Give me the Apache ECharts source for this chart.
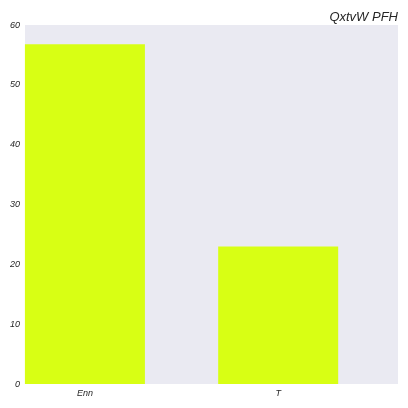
<!DOCTYPE html>
<html>
<head>
<meta charset="utf-8">
<script src="https://cdn.jsdelivr.net/npm/echarts@6/dist/echarts.min.js"></script>
<style>
  html, body { margin: 0; padding: 0; background: #fff; }
  #chart { width: 408px; height: 408px; }
</style>
</head>
<body>
<div id="chart"></div>
<script>
var categories = ['Enn', 'T'];
var values = [56.8, 23.0];
var yTicks = [0, 10, 20, 30, 40, 50, 60];

var chart = echarts.init(document.getElementById('chart'));

var barData = values.map(function (v, i) { return [i, v]; });

chart.setOption({
  animation: false,
  title: {
    text: 'QxtvW PFH',
    right: 5,
    top: 6,
    textStyle: {
      fontFamily: 'Liberation Sans',
      fontStyle: 'italic',
      fontWeight: 'normal',
      fontSize: 13,
      color: '#262626'
    }
  },
  grid: {
    left: 25,
    right: 10,
    top: 25,
    bottom: 24,
    show: true,
    backgroundColor: '#eaeaf2',
    borderWidth: 0
  },
  xAxis: {
    type: 'value',
    min: -0.31,
    max: 1.62,
    axisLine: { show: false },
    axisTick: { show: false },
    splitLine: { show: false },
    axisLabel: {
      customValues: [0, 1],
      formatter: function (v) { return categories[Math.round(v)]; },
      fontFamily: 'Liberation Sans',
      fontStyle: 'italic',
      fontSize: 9,
      color: '#262626',
      margin: 5
    }
  },
  yAxis: {
    type: 'value',
    min: yTicks[0],
    max: yTicks[yTicks.length - 1],
    interval: 10,
    axisLine: { show: false },
    axisTick: { show: false },
    splitLine: { show: false },
    axisLabel: {
      fontFamily: 'Liberation Sans',
      fontStyle: 'italic',
      fontSize: 9,
      color: '#262626',
      margin: 5
    }
  },
  series: [{
    type: 'bar',
    data: barData,
    barWidth: 120,
    itemStyle: { color: '#d8ff14' }
  }]
});
</script>
</body>
</html>
